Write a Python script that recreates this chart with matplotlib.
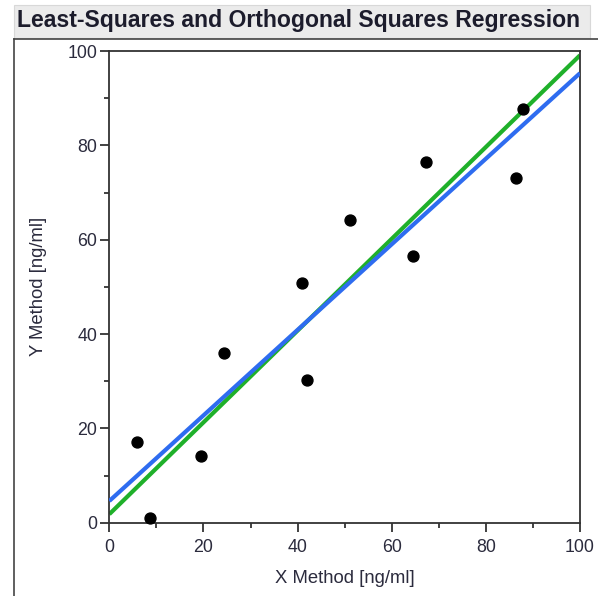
import matplotlib
matplotlib.use("Agg")
import matplotlib.pyplot as plt
from matplotlib.patches import Rectangle
from matplotlib.lines import Line2D

# Paired measurements (ng/ml)
x_method = [5.8, 8.6, 19.4, 24.4, 41.0, 42.0, 51.1, 64.5, 67.2, 86.4, 87.9]
y_method = [17.1, 0.9, 14.1, 35.9, 50.8, 30.3, 64.2, 56.5, 76.5, 73.1, 87.8]

# Fitted regression lines, evaluated at the ends of the x range
fit_x = [0, 100]
least_squares_y = [4.6, 95.3]
orthogonal_y = [1.8, 99.1]

ticks = [0, 20, 40, 60, 80, 100]
minor_ticks = [10, 30, 50, 70, 90]

W, H = 598, 596
fig = plt.figure(figsize=(W / 100, H / 100), dpi=100)
fig.patch.set_facecolor("white")

plt.rcParams["font.family"] = ["Liberation Sans", "DejaVu Sans"]

# Title bar and outer frame
fig.patches.append(Rectangle((14 / W, 1 - 38 / H), (590 - 14) / W, 33 / H,
                             transform=fig.transFigure, facecolor="#ebebeb",
                             edgecolor="#d8d8d8", linewidth=0.8, zorder=0))
fig.lines.append(Line2D([14 / W, 1.0], [1 - 38.5 / H, 1 - 38.5 / H],
                        transform=fig.transFigure, color="#444444", linewidth=1.2))
fig.lines.append(Line2D([14 / W, 14 / W], [0, 1 - 38.5 / H],
                        transform=fig.transFigure, color="#444444", linewidth=1.2))
fig.text(17 / W, 1 - 21 / H, "Least-Squares and Orthogonal Squares Regression",
         ha="left", va="center", fontsize=16.6, fontweight="bold", color="#1c1c2c")

ax = fig.add_axes([109.3 / W, 1 - 522.7 / H, (580 - 109.3) / W, (522.7 - 51) / H])
ax.set_xlim(0, 100)
ax.set_ylim(0, 100)

ax.plot(fit_x, orthogonal_y, color="#1fb02a", linewidth=3.0, solid_capstyle="butt", zorder=2)
ax.plot(fit_x, least_squares_y, color="#2e6cf0", linewidth=3.0, solid_capstyle="butt", zorder=3)
ax.scatter(x_method, y_method, s=62, color="black", zorder=4, clip_on=False)

ax.set_xticks(ticks)
ax.set_yticks(ticks)
ax.set_xticks(minor_ticks, minor=True)
ax.set_yticks(minor_ticks, minor=True)
label_color = "#2b2b3d"
ax.tick_params(which="major", direction="out", length=6.5, width=1.3, color="#333333",
               labelsize=12.8, labelcolor=label_color, pad=2)
ax.tick_params(axis="x", which="major", pad=5)
ax.tick_params(which="minor", direction="out", length=3.5, width=1.3, color="#333333")
for s in ax.spines.values():
    s.set_color("#333333")
    s.set_linewidth(1.3)

ax.set_xlabel("X Method [ng/ml]", fontsize=13.3, color=label_color, labelpad=10)
ax.set_ylabel("Y Method [ng/ml]", fontsize=13.3, color=label_color, labelpad=15)

fig.savefig("out.png", dpi=100)
